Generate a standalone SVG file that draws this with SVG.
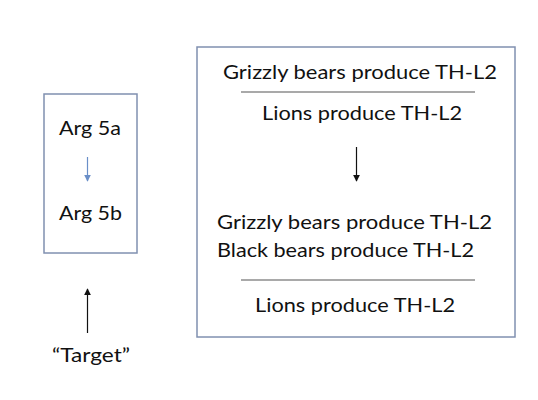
<svg xmlns="http://www.w3.org/2000/svg" width="538" height="400" viewBox="0 0 538 400">
<style>
.box{fill:#fff;stroke:#8090b0;stroke-width:1.5}
.t{font-family:Lato,"Open Sans",sans-serif;font-size:20px;fill:#111}
.rule{stroke:#555;stroke-width:1.2}
</style>
<defs>
<marker id="ab" viewBox="0 0 10 10" refX="9" refY="5" markerWidth="5.5" markerHeight="5.5" orient="auto"><path d="M0,0L10,5L0,10z" fill="#6a8fc8"/></marker>
<marker id="ak" viewBox="0 0 10 10" refX="9" refY="5" markerWidth="6" markerHeight="6" orient="auto"><path d="M0,0L10,5L0,10z" fill="#111"/></marker>
</defs>
<rect width="538" height="400" fill="#fff"/>
<g id="arg-box">
<rect class="box" x="44" y="94" width="93" height="159"/>
<text class="t" x="59" y="135" textLength="62" lengthAdjust="spacingAndGlyphs">Arg 5a</text>
<text class="t" x="59" y="220" textLength="63" lengthAdjust="spacingAndGlyphs">Arg 5b</text>
</g>
<g id="argument-box">
<rect class="box" x="197" y="47" width="318" height="290"/>
<text class="t" x="223" y="79" textLength="274" lengthAdjust="spacingAndGlyphs">Grizzly bears produce TH-L2</text>
<line class="rule" x1="241" y1="92" x2="475" y2="92"/>
<text class="t" x="262" y="120" textLength="200" lengthAdjust="spacingAndGlyphs">Lions produce TH-L2</text>
<text class="t" x="217" y="229" textLength="275" lengthAdjust="spacingAndGlyphs">Grizzly bears produce TH-L2</text>
<text class="t" x="217" y="257" textLength="257" lengthAdjust="spacingAndGlyphs">Black bears produce TH-L2</text>
<line class="rule" x1="241" y1="280" x2="475" y2="280"/>
<text class="t" x="255" y="312" textLength="200" lengthAdjust="spacingAndGlyphs">Lions produce TH-L2</text>
</g>
<g id="target">
<text class="t" x="52" y="362" textLength="78" lengthAdjust="spacingAndGlyphs">“Target”</text>
</g>
<g id="connectors">
<line x1="87.5" y1="157" x2="87.5" y2="181" stroke="#6a8fc8" stroke-width="1.2" marker-end="url(#ab)"/>
<line x1="356.5" y1="147" x2="356.5" y2="181" stroke="#111" stroke-width="1.2" marker-end="url(#ak)"/>
<line x1="87.5" y1="333" x2="87.5" y2="289" stroke="#111" stroke-width="1.2" marker-end="url(#ak)"/>
</g>
</svg>
